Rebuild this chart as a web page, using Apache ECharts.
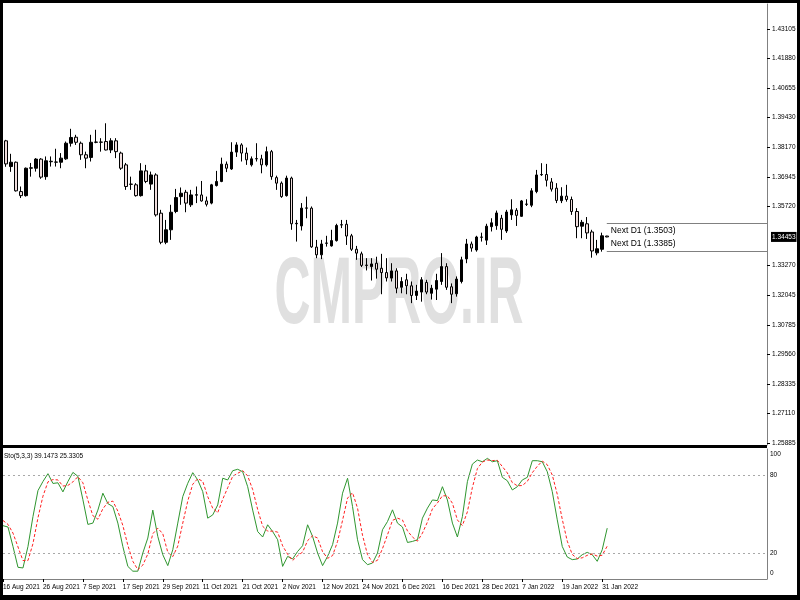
<!DOCTYPE html>
<html><head><meta charset="utf-8">
<script src="https://cdn.jsdelivr.net/npm/echarts@6/dist/echarts.min.js"></script>
<style>html,body{margin:0;padding:0;background:#fff}#c{width:800px;height:600px}</style>
</head><body><div id="c"></div>
<script>
const tickLabels=["16 Aug 2021","26 Aug 2021","7 Sep 2021","17 Sep 2021","29 Sep 2021","11 Oct 2021","21 Oct 2021","2 Nov 2021","12 Nov 2021","24 Nov 2021","6 Dec 2021","16 Dec 2021","28 Dec 2021","7 Jan 2022","19 Jan 2022","31 Jan 2022"];
const priceTicks=[1.43105,1.41880,1.40655,1.39430,1.38170,1.36945,1.35720,1.33270,1.32045,1.30785,1.29560,1.28335,1.27110,1.25885];
const stoTicks=[0,20,80,100];
const open=[1.3845,1.3738,1.3756,1.3634,1.3617,1.3731,1.3731,1.3769,1.3696,1.3760,
1.3757,1.3756,1.3770,1.3835,1.3860,1.3835,1.3787,1.3776,1.3839,1.3840,
1.3842,1.3807,1.3845,1.3794,1.3745,1.3665,1.3662,1.3617,1.3720,1.3665,
1.3703,1.3544,1.3423,1.3475,1.3551,1.3613,1.3631,1.3579,1.3619,1.3620,
1.3595,1.3586,1.3659,1.3676,1.3748,1.3728,1.3798,1.3828,1.3794,1.3745,
1.3770,1.3770,1.3745,1.3800,1.3692,1.3669,1.3617,1.3690,1.3500,1.3491,
1.3565,1.3565,1.3403,1.3371,1.3419,1.3408,1.3430,1.3495,1.3498,1.3450,
1.3394,1.3375,1.3327,1.3322,1.3336,1.3315,1.3297,1.3274,1.3304,1.3236,
1.3267,1.3242,1.3202,1.3216,1.3256,1.3211,1.3228,1.3260,1.3322,1.3238,
1.3209,1.3260,1.3354,1.3416,1.3391,1.3444,1.3432,1.3488,1.3492,1.3523,
1.3470,1.3537,1.3556,1.3531,1.3581,1.3577,1.3634,1.3704,1.3705,1.3674,
1.3648,1.3596,1.3615,1.3601,1.3551,1.3490,1.3500,1.3466,1.3379,1.3394,
1.3449];
const close=[1.3749,1.3756,1.3637,1.3617,1.3731,1.3733,1.3769,1.3694,1.3762,1.3758,
1.3756,1.3773,1.3835,1.3859,1.3839,1.3787,1.3773,1.3839,1.3840,1.3839,
1.3807,1.3845,1.3800,1.3731,1.3655,1.3664,1.3617,1.3720,1.3676,1.3703,
1.3537,1.3423,1.3475,1.3548,1.3609,1.3627,1.3586,1.3620,1.3621,1.3595,
1.3581,1.3662,1.3676,1.3748,1.3731,1.3798,1.3828,1.3794,1.3766,1.3770,
1.3771,1.3745,1.3800,1.3696,1.3669,1.3613,1.3690,1.3500,1.3502,1.3565,
1.3566,1.3404,1.3371,1.3416,1.3420,1.3430,1.3493,1.3496,1.3449,1.3394,
1.3378,1.3327,1.3328,1.3333,1.3311,1.3297,1.3275,1.3304,1.3232,1.3260,
1.3242,1.3202,1.3220,1.3267,1.3216,1.3232,1.3264,1.3322,1.3236,1.3207,
1.3270,1.3350,1.3416,1.3399,1.3445,1.3445,1.3490,1.3504,1.3545,1.3477,
1.3549,1.3558,1.3535,1.3595,1.3582,1.3637,1.3703,1.3705,1.3681,1.3644,
1.3597,1.3615,1.3601,1.3551,1.3488,1.3506,1.3462,1.3387,1.3396,1.3450,
1.34453];
const low=[1.3737,1.3716,1.3634,1.3607,1.3613,1.3696,1.3717,1.3687,1.3683,1.3738,
1.3738,1.3731,1.3766,1.3821,1.3828,1.3766,1.3731,1.3759,1.3835,1.3800,
1.3805,1.3794,1.3773,1.3724,1.3641,1.3641,1.3613,1.3613,1.3669,1.3641,
1.3530,1.3415,1.3415,1.3433,1.3544,1.3579,1.3548,1.3570,1.3586,1.3592,
1.3572,1.3581,1.3655,1.3673,1.3715,1.3724,1.3778,1.3759,1.3745,1.3738,
1.3759,1.3710,1.3738,1.3683,1.3641,1.3608,1.3613,1.3475,1.3426,1.3472,
1.3523,1.3400,1.3357,1.3353,1.3405,1.3405,1.3426,1.3482,1.3412,1.3387,
1.3350,1.3320,1.3306,1.3264,1.3272,1.3207,1.3260,1.3260,1.3211,1.3211,
1.3207,1.3170,1.3183,1.3176,1.3207,1.3185,1.3183,1.3246,1.3225,1.3170,
1.3197,1.3252,1.3336,1.3384,1.3384,1.3426,1.3412,1.3468,1.3475,1.3433,
1.3462,1.3516,1.3491,1.3529,1.3574,1.3569,1.3627,1.3699,1.3655,1.3634,
1.3586,1.3586,1.3592,1.3537,1.3440,1.3440,1.3437,1.3359,1.3369,1.3384,
1.3444];
const high=[1.3849,1.3791,1.3759,1.3655,1.3734,1.3753,1.3773,1.3773,1.3780,1.3780,
1.3812,1.3794,1.3842,1.3895,1.3870,1.3842,1.3800,1.3870,1.3891,1.3856,
1.3918,1.3856,1.3856,1.3800,1.3753,1.3696,1.3669,1.3752,1.3745,1.3717,
1.3710,1.3558,1.3516,1.3579,1.3645,1.3651,1.3641,1.3641,1.3655,1.3678,
1.3613,1.3666,1.3720,1.3775,1.3759,1.3839,1.3839,1.3835,1.3817,1.3780,
1.3835,1.3787,1.3821,1.3807,1.3700,1.3676,1.3700,1.3696,1.3516,1.3586,
1.3613,1.3572,1.3433,1.3433,1.3450,1.3475,1.3500,1.3516,1.3516,1.3458,
1.3408,1.3384,1.3357,1.3357,1.3363,1.3375,1.3357,1.3336,1.3315,1.3278,
1.3292,1.3260,1.3246,1.3278,1.3267,1.3246,1.3292,1.3378,1.3336,1.3252,
1.3281,1.3363,1.3437,1.3426,1.3450,1.3463,1.3500,1.3523,1.3555,1.3537,
1.3558,1.3602,1.3565,1.3599,1.3602,1.3648,1.3724,1.3752,1.3749,1.3690,
1.3669,1.3652,1.3662,1.3613,1.3565,1.3516,1.3528,1.3475,1.3433,1.3463,
1.3450];
const stoMain=[41,40,25,9,8.5,25,48,68,75,81,
73.5,74,67,75,82,79,61,42,43,53,
66,58,55.7,43,25,9.7,6,6,20,31.5,
53,32.7,18.7,10.3,22.5,43,63.4,73.6,81.8,76.2,
67.2,46.8,49.3,57,77.5,76.2,83.3,84.4,82.5,71,
53,36.5,32.3,41.7,36.5,30.2,9.7,17.4,15.4,21.2,
25.6,41.7,32.7,20,10.3,17.4,26.4,43,66,77.5,
55.7,30.2,14.9,11,12.3,20,37.9,44.2,53.2,43,
40,28.1,28.9,30.2,46.8,54.5,60.8,60.3,71,60.8,
43,32.3,48,74.9,88.4,91.5,90.2,92.8,90.2,91,
78.2,75.6,68.5,71,76.2,78.2,91,91,90.2,82.5,
67.2,45.5,25,16.9,14.9,15.4,18.7,20.5,18.7,13.6,
22.5,39.1];
const stoSignal=[45,42,35.3,24.7,14.2,14.2,27.2,47,63.7,74.7,
76.5,76.2,71.5,72,74.7,78.7,74,60.7,48.7,46,
54,59,59.9,52.2,41.2,25.9,13.6,7.2,10.7,19.2,
34.8,39.1,34.8,20.6,17.2,25.3,43,60,72.9,77.2,
75.1,63.4,54.4,51,61.3,70.2,79,81.3,83.4,79.3,
68.8,53.5,40.6,36.8,36.8,36.1,25.5,19.1,14.2,18,
20.7,29.5,33.3,31.5,21,15.9,18,28.9,45.1,62.2,
66.4,54.5,33.6,18.7,12.7,14.4,23.4,34,45.1,46.8,
45.4,37,32.3,29.1,35.3,43.8,54,58.5,64,64,
58.3,45.4,41.1,51.7,70.4,84.9,90,91.5,91.1,91.3,
86.5,81.6,74.1,71.7,71.9,75.1,81.8,86.7,90.7,87.9,
80,65.1,45.9,29.1,18.9,15.7,16.3,18.2,19.3,17.6,
18.3,25.3];
const nextD1=[1.3503,1.3385];
const lastPrice=1.34453;
const stoLevels=[20,80];
const stoTitle='Sto(5,3,3) 39.1473 25.3305';

const N=154;
const cats=[];for(let k=0;k<N;k++)cats.push(String(k));
const candleData=['-'].concat(open.map((o,i)=>[o,close[i],low[i],high[i]]));
const lastIdx=open.length;
const F='"Liberation Sans", Arial, sans-serif';
const FS=6.5;
const tickOn=(i)=>i%8===0&&i/8<tickLabels.length;
const priceLabelValues=priceTicks.concat([lastPrice]);

const chart=echarts.init(document.getElementById('c'),null,{renderer:'canvas'});
chart.setOption({
  animation:false,
  backgroundColor:'#fff',
  title:{text:stoTitle,left:4,top:453,padding:0,textStyle:{fontSize:FS,fontFamily:F,fontWeight:'normal',color:'#000'}},
  grid:[{left:1,top:4,width:766,height:441},{left:1,top:449,width:766,height:130}],
  xAxis:[
    {gridIndex:0,type:'category',data:cats,boundaryGap:false,show:false},
    {gridIndex:1,type:'category',data:cats,boundaryGap:false,
     axisLine:{show:true,lineStyle:{color:'#808080',width:1}},
     axisTick:{show:true,length:3,interval:tickOn,lineStyle:{color:'#000'}},
     axisLabel:{interval:tickOn,showMinLabel:true,formatter:(v,i)=>tickLabels[i/8]||'',align:'left',fontSize:FS,fontFamily:F,color:'#000',margin:5},
     splitLine:{show:false}}
  ],
  yAxis:[
    {gridIndex:0,type:'value',position:'right',min:1.2580,max:1.4414,
     axisLine:{show:true,lineStyle:{color:'#808080'}},
     axisTick:{show:true,length:3,customValues:priceTicks,lineStyle:{color:'#000'}},
     axisLabel:{customValues:priceLabelValues,margin:4,fontSize:FS,fontFamily:F,color:'#000',
       formatter:v=>v===lastPrice?'{cur|'+v.toFixed(5)+'}':'{n|'+v.toFixed(5)+'}',
       rich:{n:{fontSize:FS,fontFamily:F,color:'#000',padding:[0,0,0,1]},
             cur:{fontSize:FS,fontFamily:F,color:'#fff',backgroundColor:'#000',padding:[2,1,1,1]}}},
     splitLine:{show:false}},
    {gridIndex:1,type:'value',position:'right',min:0,max:100,
     axisLine:{show:true,lineStyle:{color:'#808080'}},
     axisTick:{show:false},
     axisLabel:{customValues:stoTicks,margin:3,fontSize:FS,fontFamily:F,color:'#000',
       formatter:v=>v===100?'{t|100}':(v===0?'{b|0}':'{m|'+v+'}'),
       rich:{t:{fontSize:FS,fontFamily:F,color:'#000',padding:[10,0,0,0]},
             b:{fontSize:FS,fontFamily:F,color:'#000',padding:[0,0,12,0]},
             m:{fontSize:FS,fontFamily:F,color:'#000'}}},
     splitLine:{show:false}}
  ],
  graphic:[
    {type:'text',x:399,y:297,scaleX:0.53,z:-1,silent:true,
     style:{text:'CMPRO.IR',font:'bold 94px "Liberation Sans", Arial, sans-serif',fill:'#e0e0e0',textAlign:'center',textVerticalAlign:'middle'}},
    {type:'rect',z:100,shape:{x:0,y:0,width:3,height:600},style:{fill:'#000'}},
    {type:'rect',z:100,shape:{x:0,y:0,width:800,height:3},style:{fill:'#000'}},
    {type:'rect',z:100,shape:{x:797,y:0,width:3,height:600},style:{fill:'#000'}},
    {type:'rect',z:100,shape:{x:0,y:595,width:800,height:5},style:{fill:'#000'}},
    {type:'rect',z:100,shape:{x:0,y:445,width:767,height:3},style:{fill:'#000'}}
  ],
  series:[
    {type:'candlestick',xAxisIndex:0,yAxisIndex:0,data:candleData,barWidth:3,
     itemStyle:{color:'#000',color0:'#f0dede',borderColor:'#000',borderColor0:'#000',borderColorDoji:'#000',borderWidth:1},
     markLine:{silent:true,symbol:'none',animation:false,
       data:[
         [{coord:[lastIdx,nextD1[0]],lineStyle:{color:'#808080',width:1,type:'solid'},
           label:{show:true,position:'insideStartBottom',distance:[4,3],formatter:'Next D1 ('+nextD1[0].toFixed(4)+')',fontSize:8.5,fontFamily:F,color:'#000'}},
          {coord:[N-1,nextD1[0]]}],
         [{coord:[lastIdx,nextD1[1]],lineStyle:{color:'#808080',width:1,type:'solid'},
           label:{show:true,position:'insideStartTop',distance:[4,3],formatter:'Next D1 ('+nextD1[1].toFixed(4)+')',fontSize:8.5,fontFamily:F,color:'#000'}},
          {coord:[N-1,nextD1[1]]}]
       ]}},
    {type:'line',xAxisIndex:1,yAxisIndex:1,data:stoMain,symbol:'none',
     lineStyle:{color:'#2f962f',width:1},
     markLine:{silent:true,symbol:'none',label:{show:false},
       lineStyle:{color:'#a8a8a8',width:1,type:[2,3]},
       data:stoLevels.map(v=>({yAxis:v}))}},
    {type:'line',xAxisIndex:1,yAxisIndex:1,data:stoSignal,symbol:'none',
     lineStyle:{color:'#ff2020',width:1,type:[3,2]}}
  ]
});
</script></body></html>
